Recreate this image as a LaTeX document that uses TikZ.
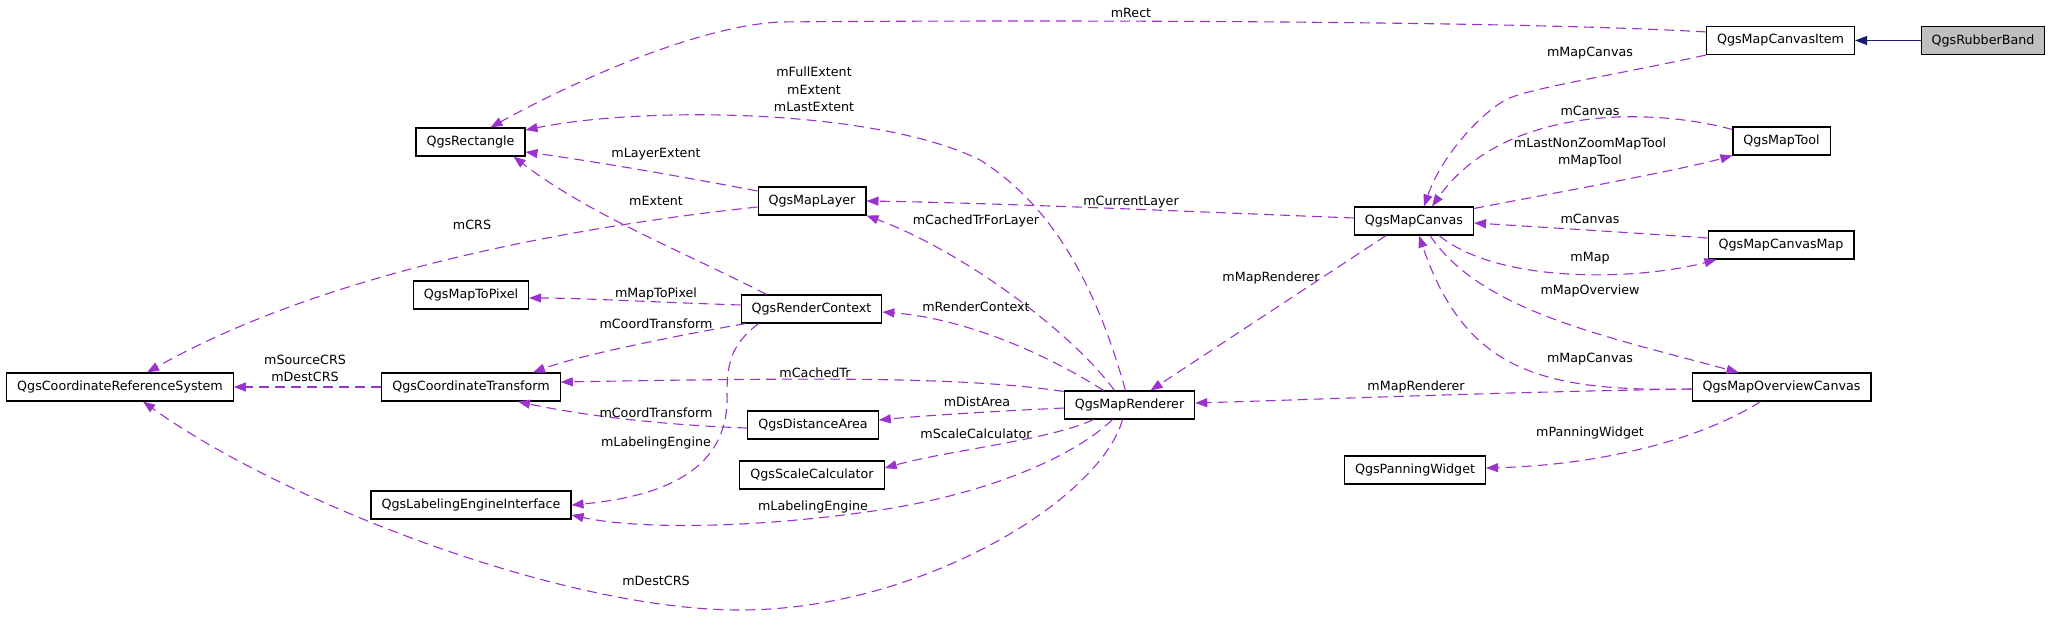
\documentclass[tikz,border=0pt]{standalone}
\usepackage{fontspec}
\setmainfont{DejaVu Sans}
\usetikzlibrary{arrows.meta}
\definecolor{usepurple}{RGB}{154, 50, 205}
\definecolor{inhblue}{RGB}{25, 25, 112}
\definecolor{basegray}{RGB}{191, 191, 191}

\begin{document}
\begin{tikzpicture}[x=1pt, y=-1pt,
  font=\fontsize{12.7}{17.3}\selectfont,
  classbox/.style={draw=black, line width=1.1pt, fill=white, minimum height=28pt, inner xsep=10.5pt, inner ysep=0pt},
  usage/.style={draw=usepurple, line width=1.1pt, dash pattern=on 10pt off 6pt, -{Triangle[length=12pt, width=9pt]}},
  inherit/.style={draw=inhblue, line width=1.1pt, -{Triangle[length=12pt, width=9pt]}},
  memb/.style={inner sep=0pt, align=center}]

  \useasboundingbox (0,0) rectangle (2053,643);

  % Classes - right part
  \node[classbox, fill=basegray] (rubber) at (1983,40.5) {QgsRubberBand};
  \node[classbox] (item) at (1780.5,40.5) {QgsMapCanvasItem};
  \node[classbox] (tool) at (1781.5,141) {QgsMapTool};
  \node[classbox] (canvas) at (1414,221) {QgsMapCanvas};
  \node[classbox] (cmap) at (1781,245) {QgsMapCanvasMap};
  \node[classbox] (ovw) at (1781.5,387) {QgsMapOverviewCanvas};
  \node[classbox] (pan) at (1415,470) {QgsPanningWidget};

  % Classes - middle
  \node[classbox] (layer) at (812,201) {QgsMapLayer};
  \node[classbox] (rctx) at (811.5,309) {QgsRenderContext};
  \node[classbox] (rend) at (1129.5,405) {QgsMapRenderer};
  \node[classbox] (dist) at (813,425) {QgsDistanceArea};
  \node[classbox] (scale) at (812,475) {QgsScaleCalculator};

  % Classes - left
  \node[classbox] (rect) at (470.5,142) {QgsRectangle};
  \node[classbox] (m2p) at (471,295) {QgsMapToPixel};
  \node[classbox] (ct) at (471,387) {QgsCoordinateTransform};
  \node[classbox] (lei) at (471,505) {QgsLabelingEngineInterface};
  \node[classbox] (crs) at (120,387) {QgsCoordinateReferenceSystem};

  % Inheritance
  \draw[inherit] (rubber.west) -- (item.east);

  % Members of the canvas side
  \draw[usage] ([yshift=-6pt]item.north west) .. controls (1500,20) and (1000,20) .. (780,22)
    .. controls (700,26) and (580,78) .. ([xshift=20pt]rect.north);
  \node[memb] (lRect) at (1131,13) {mRect};
  \draw[usage] (item.south west) .. controls (1600,78) and (1530,88) .. (1505,100)
    .. controls (1475,118) and (1440,160) .. ([xshift=10pt]canvas.north);
  \node[memb] (lItemCanvas) at (1590,53) {mMapCanvas};
  \draw[usage] ([yshift=-3pt]tool.north west) .. controls (1640,105) and (1500,110) .. ([xshift=18pt]canvas.north);
  \node[memb] (lToolCanvas) at (1590,111) {mCanvas};
  \draw[usage] ([yshift=-2pt]canvas.north east) .. controls (1560,192) and (1680,170) .. (tool.south west);
  \node[memb] (lTool) at (1590,152.5) {mLastNonZoomMapTool\\mMapTool};
  \draw[usage] ([yshift=3pt]canvas.west) .. controls (1200,212) and (1000,203) .. (layer.east);
  \node[memb] (lLayer) at (1131,202) {mCurrentLayer};
  \draw[usage] ([yshift=7pt]cmap.west) .. controls (1620,232) and (1540,227) .. ([yshift=-2pt]canvas.east);
  \node[memb] (lMapCanvas) at (1590,219) {mCanvas};
  \draw[usage] ([xshift=25pt]canvas.south) .. controls (1500,285) and (1640,280) .. ([xshift=9pt]cmap.south west);
  \node[memb] (lMap) at (1590,258) {mMap};
  \draw[usage] ([xshift=16pt]canvas.south) .. controls (1480,310) and (1600,335) .. ([xshift=-43pt]ovw.north);
  \node[memb] (lOvw) at (1590,291) {mMapOverview};
  \draw[usage] ([yshift=-2pt]ovw.west) .. controls (1540,392) and (1465,370) .. ([xshift=5pt]canvas.south);
  \node[memb] (lOvwCanvas) at (1590,359) {mMapCanvas};
  \draw[usage] ([yshift=-2pt]ovw.west) .. controls (1500,392) and (1300,400) .. ([yshift=2pt]rend.east);
  \node[memb] (lOvwRend) at (1416,387) {mMapRenderer};
  \draw[usage] ([xshift=-28pt]canvas.south) -- ([xshift=21pt]rend.north);
  \node[memb] (lCanvasRend) at (1271,278) {mMapRenderer};
  \draw[usage] ([xshift=-21pt]ovw.south) .. controls (1700,440) and (1600,465) .. ([yshift=2pt]pan.east);
  \node[memb] (lPan) at (1590,433) {mPanningWidget};

  % Members of layer and render context
  \draw[usage] ([yshift=10pt]layer.west) .. controls (700,180) and (600,162) .. ([yshift=-10pt]rect.east);
  \node[memb] (lLayerExt) at (656,154) {mLayerExtent};
  \draw[usage] ([yshift=-6pt]layer.west) .. controls (560,228) and (320,275) .. ([xshift=27pt]crs.north);
  \node[memb] (lCrs) at (472,225) {mCRS};
  \draw[usage] ([xshift=-45pt]rctx.north) .. controls (680,250) and (590,215) .. ([xshift=43pt]rect.south);
  \node[memb] (lExtent) at (656,201) {mExtent};
  \draw[usage] ([yshift=4pt]rctx.west) .. controls (650,302) and (580,298) .. ([yshift=-3pt]m2p.east);
  \node[memb] (lM2p) at (656,294) {mMapToPixel};
  \draw[usage] ([xshift=5pt]rctx.south west) .. controls (680,335) and (580,355) .. ([xshift=62pt]ct.north);
  \node[memb] (lCtxCt) at (656,324) {mCoordTransform};
  \draw[usage] ([xshift=18pt]rctx.south west) .. controls (730,345) and (727,365) .. (727,395)
    .. controls (729,460) and (680,495) .. (lei.east);
  \node[memb] (lCtxLei) at (656,443) {mLabelingEngine};

  % Members of the renderer
  \draw[usage] ([xshift=-4pt]rend.north) .. controls (1100,300) and (1060,210) .. (980,160)
    .. controls (880,110) and (650,105) .. ([yshift=12pt]rect.east);
  \node[memb] (lRendExt) at (814,89.5) {mFullExtent\\mExtent\\mLastExtent};
  \draw[usage] ([xshift=-15pt]rend.north) .. controls (1070,330) and (960,250) .. (layer.south east);
  \node[memb] (lTrLayer) at (976,221) {mCachedTrForLayer};
  \draw[usage] ([xshift=-26pt]rend.north) .. controls (1040,350) and (960,318) .. ([yshift=-3pt]rctx.east);
  \node[memb] (lRendCtx) at (976,307) {mRenderContext};
  \draw[usage] ([yshift=-1pt]rend.north west) .. controls (960,376) and (800,378) .. ([yshift=5pt]ct.east);
  \node[memb] (lCachedTr) at (815,373) {mCachedTr};
  \draw[usage] ([yshift=-3pt]rend.west) .. controls (980,412) and (920,416) .. ([yshift=5pt]dist.east);
  \node[memb] (lDist) at (977,402) {mDistArea};
  \draw[usage] ([yshift=-3pt]dist.west) .. controls (660,425) and (580,415) .. ([xshift=47pt]ct.south);
  \node[memb] (lDistCt) at (656,413) {mCoordTransform};
  \draw[usage] ([xshift=-36pt]rend.south) .. controls (1050,440) and (950,450) .. ([yshift=7pt]scale.east);
  \node[memb] (lScale) at (976,434) {mScaleCalculator};
  \draw[usage] ([xshift=-17pt]rend.south) .. controls (1070,460) and (980,495) .. (880,510)
    .. controls (760,528) and (640,530) .. ([yshift=-10pt]lei.east);
  \node[memb] (lRendLei) at (813,507) {mLabelingEngine};
  \draw[usage] ([xshift=-7pt]rend.south) .. controls (1100,500) and (920,610) .. (740,610)
    .. controls (560,610) and (280,500) .. ([xshift=23pt]crs.south);
  \node[memb] (lDestCrs) at (656,581) {mDestCRS};

  % Coordinate transform
  \draw[usage] (ct.west) -- (crs.east);
  \node[memb] (lCtCrs) at (305,368.5) {mSourceCRS\\mDestCRS};
\end{tikzpicture}
\end{document}
